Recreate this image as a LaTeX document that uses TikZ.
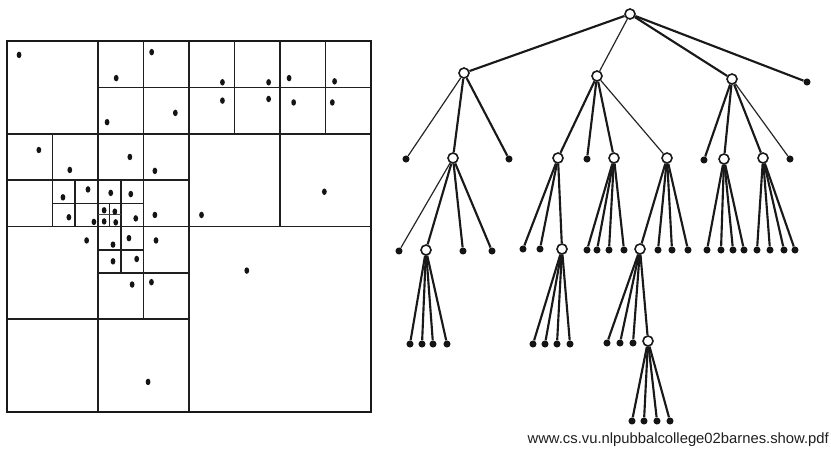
\documentclass[tikz,border=0pt]{standalone}
\usepackage{fontspec}
\setmainfont{Liberation Sans}
\begin{document}
\begin{tikzpicture}[x=0.75pt,y=-0.75pt,
  inner/.style={draw=black!90, fill=white, circle, line width=1.2pt, minimum size=7.5pt, inner sep=0pt},
  leaf/.style={fill=black!92, circle, minimum size=5.3pt, inner sep=0pt},
  edge/.style={line width=1.6pt, black!90},
  thinedge/.style={line width=0.9pt, black!85},
  cell/.style={line width=1.2pt, black!88},
  finecell/.style={line width=0.8pt, black!70},
  frame/.style={line width=1.6pt, black!90},
  body/.style={fill=black!92}]
\useasboundingbox (0,0) rectangle (831,455);

% ---------- Barnes-Hut quadtree subdivision (16 x 16 grid units) ----------
\begin{scope}[shift={(7,41)}, xscale=22.75, yscale=23.19]
  % level 1 and 2 splits
  \draw[cell] (8,0) -- (8,16);
  \draw[cell] (0,8) -- (16,8);
  \draw[cell] (4,0) -- (4,16);
  \draw[cell] (0,4) -- (16,4);
  \draw[cell] (12,0) -- (12,8);
  \draw[cell] (0,12) -- (8,12);
  % level 3 splits
  \draw[cell] (6,0) -- (6,12);
  \draw[cell] (4,2) -- (16,2);
  \draw[cell] (0,6) -- (8,6);
  \draw[cell] (2,4) -- (2,8);
  \draw[cell] (10,0) -- (10,4);
  \draw[cell] (14,0) -- (14,4);
  \draw[cell] (4,10) -- (8,10);
  % level 4 splits
  \draw[cell] (3,6) -- (3,8);
  \draw[cell] (2,7) -- (6,7);
  \draw[cell] (5,6) -- (5,10);
  \draw[cell] (4,9) -- (6,9);
  % level 5 split
  \draw[cell] (4.5,7) -- (4.5,8);
  \draw[finecell] (4,7.5) -- (5,7.5);
  % outer frame
  \draw[frame] (0,0) rectangle (16,16);

  % bodies
  \foreach \px/\py in {
      0.53/0.60, 4.80/1.60, 6.36/0.48, 4.40/3.50, 7.40/3.10,
      1.40/4.70, 2.76/5.56, 2.46/6.74, 3.56/6.40, 2.72/7.60, 3.82/7.80,
      5.40/5.00, 6.50/5.60, 4.56/6.55, 5.44/6.60,
      4.27/7.30, 4.74/7.36, 4.27/7.78, 4.78/7.82, 5.66/7.65, 6.50/7.50,
      9.47/1.78, 11.50/1.78, 9.47/2.57, 11.50/2.50,
      12.40/1.60, 14.40/1.74, 12.60/2.65, 14.30/2.65,
      8.55/7.50, 13.95/6.50,
      3.50/8.60, 4.66/8.78, 5.36/8.50, 4.66/9.50, 5.70/9.40, 6.55/8.60,
      5.50/10.50, 6.35/10.40, 6.20/14.70, 10.54/9.90}
    \fill[body] (\px,\py) ellipse (0.105 and 0.14);
\end{scope}

% ---------- tree ----------
% root and its children
\node[inner] (r) at (630,14) {};
\node[inner] (a) at (464,73) {};
\node[inner] (b) at (597,76) {};
\node[inner] (c) at (732,79) {};
\node[leaf]  (rl) at (807,82) {};
\draw[edge] (r) -- (a);
\draw[thinedge] (r) -- (b);
\draw[edge] (r) -- (c);
\draw[edge] (r) -- (rl);

% subtree a
\node[leaf]  (a1) at (406,159) {};
\node[inner] (a2) at (453,158) {};
\node[leaf]  (a3) at (509,159) {};
\draw[thinedge] (a) -- (a1);
\draw[edge] (a) -- (a2);
\draw[edge] (a) -- (a3);
\node[leaf]  (a21) at (399,251) {};
\node[inner] (a22) at (426,250) {};
\node[leaf]  (a23) at (463,251) {};
\node[leaf]  (a24) at (492,251) {};
\draw[thinedge] (a2) -- (a21);
\draw[edge] (a2) -- (a22);
\draw[edge] (a2) -- (a23);
\draw[edge] (a2) -- (a24);
\foreach \x [count=\i] in {410,422,433,447} {
  \node[leaf] (a22l\i) at (\x,344) {};
  \draw[edge] (a22) -- (a22l\i);
}

% subtree b
\node[inner] (b1) at (558,158) {};
\node[leaf]  (b2) at (587,159) {};
\node[inner] (b3) at (614,158) {};
\node[inner] (b4) at (667,158) {};
\draw[edge] (b) -- (b1);
\draw[edge] (b) -- (b2);
\draw[edge] (b) -- (b3);
\draw[thinedge] (b) -- (b4);
\node[leaf]  (b11) at (523,249) {};
\node[leaf]  (b12) at (540,249) {};
\node[inner] (b13) at (562,249) {};
\draw[edge] (b1) -- (b11);
\draw[edge] (b1) -- (b12);
\draw[edge] (b1) -- (b13);
\foreach \x [count=\i] in {533,545,557,570} {
  \node[leaf] (b13l\i) at (\x,344) {};
  \draw[edge] (b13) -- (b13l\i);
}
\foreach \x [count=\i] in {587,597,609,624} {
  \node[leaf] (b3l\i) at (\x,250) {};
  \draw[edge] (b3) -- (b3l\i);
}
\node[inner] (b41) at (640,249) {};
\draw[edge] (b4) -- (b41);
\foreach \x [count=\i] in {658,672,688} {
  \node[leaf] (b4l\i) at (\x,250) {};
  \draw[edge] (b4) -- (b4l\i);
}
\foreach \x [count=\i] in {607,620,633} {
  \node[leaf] (b41l\i) at (\x,343) {};
  \draw[edge] (b41) -- (b41l\i);
}
\node[inner] (b414) at (648,341) {};
\draw[edge] (b41) -- (b414);
\foreach \x [count=\i] in {632,644,657,670} {
  \node[leaf] (b414l\i) at (\x,421) {};
  \draw[edge] (b414) -- (b414l\i);
}

% subtree c
\node[leaf]  (c1) at (704,160) {};
\node[inner] (c2) at (724,159) {};
\node[inner] (c3) at (763,158) {};
\node[leaf]  (c4) at (790,159) {};
\draw[edge] (c) -- (c1);
\draw[edge] (c) -- (c2);
\draw[edge] (c) -- (c3);
\draw[thinedge] (c) -- (c4);
\foreach \x [count=\i] in {707,721,733,744} {
  \node[leaf] (c2l\i) at (\x,250) {};
  \draw[edge] (c2) -- (c2l\i);
}
\foreach \x [count=\i] in {757,770,784,795} {
  \node[leaf] (c3l\i) at (\x,250) {};
  \draw[edge] (c3) -- (c3l\i);
}

% source line
\node[anchor=base east, inner sep=0pt, text=black!88] (src) at (829,443)
  {\fontsize{11.1}{13}\selectfont www.cs.vu.nlpubbalcollege02barnes.show.pdf};
\end{tikzpicture}
\end{document}
